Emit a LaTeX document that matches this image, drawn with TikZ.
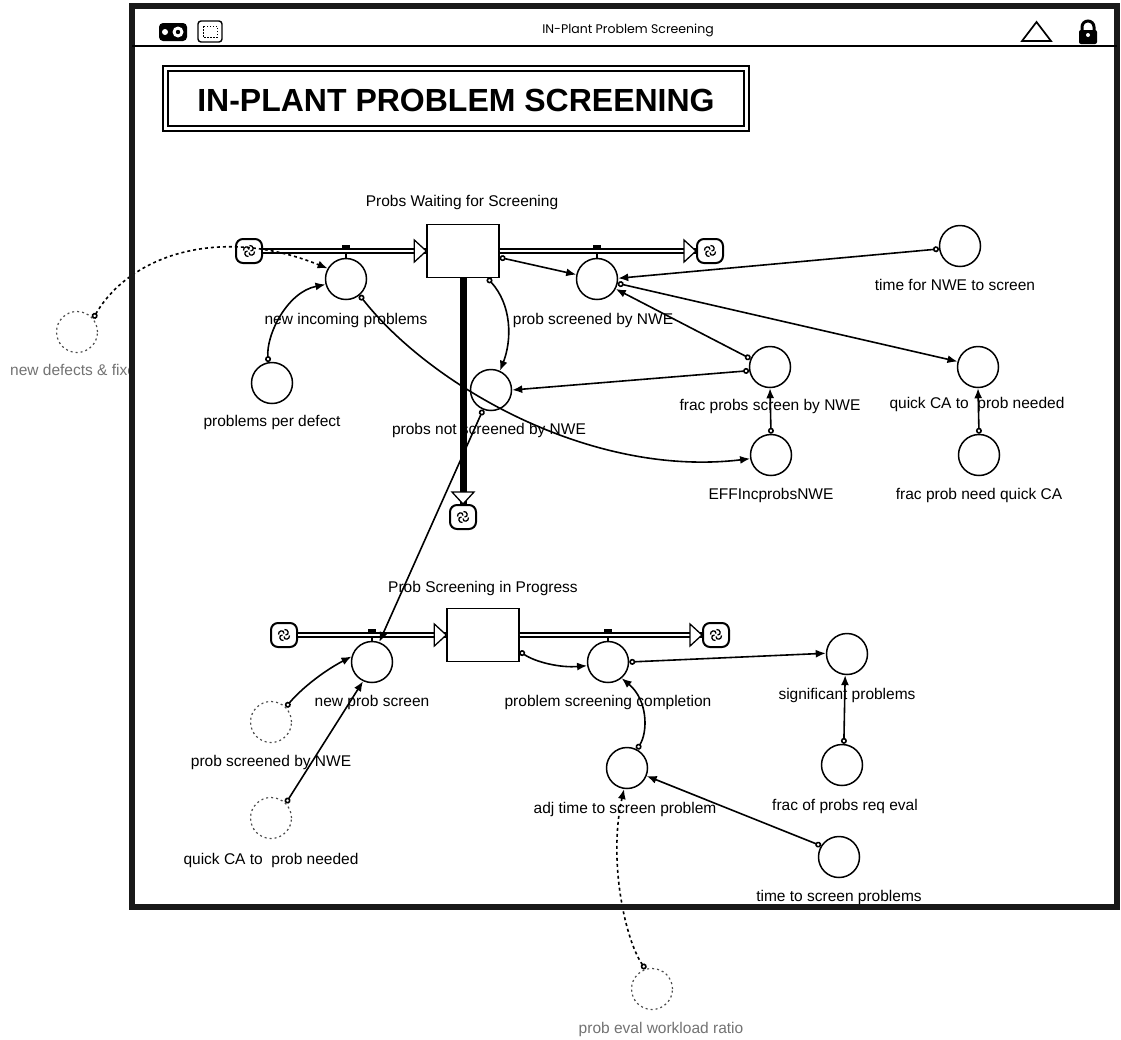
\documentclass[tikz,border=0pt]{standalone}
\usepackage{fontspec}
\setmainfont{Liberation Sans}
\newfontfamily\barfont{Poppins}
\usetikzlibrary{arrows.meta,calc}

\tikzset{
  aux/.style={circle, draw, fill=white, line width=1.5pt, minimum size=41pt, inner sep=0pt},
  ghost/.style={circle, draw=black!70, dash pattern=on 2pt off 3pt, line width=1.2pt, minimum size=41pt, inner sep=0pt},
  stockbox/.style={rectangle, draw, fill=white, line width=1.4pt, minimum width=72pt, minimum height=53pt, inner sep=0pt},
  cloudicon/.style={rectangle, rounded corners=7pt, draw, fill=white, line width=2pt,
    minimum width=26pt, minimum height=24pt, inner sep=0pt,
    path picture={
      \foreach \a in {0,90,180,270}{
        \draw[line width=1.3pt]
          ($(path picture bounding box.center)+(\a:1.5pt)$)
          .. controls ($(path picture bounding box.center)+(\a:6pt)$)
          and ($(path picture bounding box.center)+(\a+55:7.5pt)$)
          .. ($(path picture bounding box.center)+(\a+85:5.5pt)$);
      }}},
  lbl/.style={font=\fontsize{15.5}{18}\selectfont, anchor=mid, inner sep=0pt},
  faintlbl/.style={lbl, text=black!55},
  pipe/.style={line width=1.5pt, double=white, double distance=2.4pt},
  vpipe/.style={line width=7pt},
  pipehead/.style={draw, line width=1.3pt, fill=white, line join=miter},
  valvemark/.style={fill=black},
  conn/.style={line width=1.6pt, {Circle[fill=white,length=6pt,width=6pt]}-{Latex[length=10pt,width=8pt]}},
  ghostconn/.style={conn, dash pattern=on 3pt off 3pt},
  frame/.style={line width=5.5pt, draw=black!90}
}

\begin{document}
\begin{tikzpicture}[x=1pt,y=1pt]
\useasboundingbox (0,0) rectangle (1121,-1039);
\fill[white] (0,0) rectangle (1121,-1039);

% ---------- stocks and clouds ----------
\node[stockbox] (stock1) at (463,-251) {};
\node[stockbox] (stock2) at (483,-635) {};
\node[cloudicon] (c1) at (249,-251) {};
\node[cloudicon] (c2) at (710,-251) {};
\node[cloudicon] (c3) at (463,-517) {};
\node[cloudicon] (c4) at (284,-635) {};
\node[cloudicon] (c5) at (716,-635) {};

% ---------- pipes ----------
\draw[pipe] (c1.east) -- (stock1.west);
\draw[pipe] (stock1.east) -- (c2.west);
\draw[vpipe] (stock1.south) -- (c3.north);
\draw[pipe] (c4.east) -- (stock2.west);
\draw[pipe] (stock2.east) -- (c5.west);

\draw[pipehead] (stock1.west) -- ++(-12,11) -- ++(0,-22) -- cycle;
\draw[pipehead] (c2.west) -- ++(-12,11) -- ++(0,-22) -- cycle;
\draw[pipehead] (c3.north) -- ++(-11,12) -- ++(22,0) -- cycle;
\draw[pipehead] (stock2.west) -- ++(-12,11) -- ++(0,-22) -- cycle;
\draw[pipehead] (c5.west) -- ++(-12,11) -- ++(0,-22) -- cycle;

% ---------- converters and flow valves ----------
\node[aux] (nip) at (346,-279) {};
\node[aux] (ppd) at (272,-383) {};
\node[aux] (psn) at (597,-279) {};
\node[aux] (pns) at (491,-390) {};
\node[aux] (fps) at (770,-367) {};
\node[aux] (eff) at (771,-455) {};
\node[aux] (tnw) at (960,-246) {};
\node[aux] (qca) at (978,-367) {};
\node[aux] (fqc) at (979,-455) {};
\node[aux] (nps) at (372,-662) {};
\node[aux] (psc) at (608,-662) {};
\node[aux] (sig) at (847,-654) {};
\node[aux] (fre) at (842,-765) {};
\node[aux] (adj) at (627,-768) {};
\node[aux] (tsp) at (839,-857) {};
\node[ghost] (gps) at (271,-722) {};
\node[ghost] (gqc) at (271,-818) {};
\node[ghost] (gl) at (77,-332) {};
\node[ghost] (gb) at (652,-989) {};

% valve marks on the pipes
\fill[valvemark] (342,-245) rectangle (350,-249);
\draw[line width=1.3pt] (nip.north) -- ++(0,5);
\fill[valvemark] (593,-245) rectangle (601,-249);
\draw[line width=1.3pt] (psn.north) -- ++(0,5);
\fill[valvemark] (368,-629) rectangle (376,-633);
\draw[line width=1.3pt] (nps.north) -- ++(0,5);
\fill[valvemark] (604,-629) rectangle (612,-633);
\draw[line width=1.3pt] (psc.north) -- ++(0,5);

% ---------- connectors ----------
\draw[conn] (ppd.100) .. controls (266,-335) and (287,-292) .. (nip.195);
\draw[conn] (nip.-50) .. controls (430,-385) and (590,-478) .. (eff.190);
\draw[conn] (stock1.-10) -- (psn.168);
\draw[conn] (stock1.-48) .. controls (512,-305) and (512,-340) .. (pns.65);
\draw[conn] (fps.157) -- (psn.-28);
\draw[conn] (fps.190) -- (pns.0);
\draw[conn] (tnw.188) -- (psn.2);
\draw[conn] (psn.-12) -- (qca.165);
\draw[conn] (eff.north) -- (fps.south);
\draw[conn] (fqc.north) -- (qca.south);
\draw[conn] (pns.-112) -- (nps.70);
\draw[conn] (gps.45) .. controls (300,-690) and (322,-672) .. (nps.165);
\draw[conn] (gqc.45) -- (nps.-115);
\draw[conn] (stock2.-24) .. controls (535,-662) and (560,-668) .. (psc.190);
\draw[conn] (psc.0) -- (sig.178);
\draw[conn] (adj.62) .. controls (648,-732) and (648,-700) .. (psc.-50);
\draw[conn] (tsp.148) -- (adj.-22);
\draw[conn] (fre.85) -- (sig.-95);
\draw[ghostconn] (gl.40) .. controls (130,-255) and (220,-225) .. (nip.150);
\draw[ghostconn] (gb.108) .. controls (625,-940) and (608,-860) .. (adj.-98);

% ---------- labels ----------
\node[lbl] (stock1-l) at (462,-204) {Probs Waiting for Screening};
\node[lbl] (stock2-l) at (483,-590) {Prob Screening in Progress};
\node[lbl] (nip-l) at (346,-322) {new incoming problems};
\node[lbl] (ppd-l) at (272,-424) {problems per defect};
\node[lbl] (psn-l) at (593,-322) {prob screened by NWE};
\node[lbl] (pns-l) at (489,-432) {probs not screened by NWE};
\node[lbl] (fps-l) at (770,-408) {frac probs screen by NWE};
\node[lbl] (eff-l) at (771,-497) {EFFIncprobsNWE};
\node[lbl] (tnw-l) at (955,-288) {time for NWE to screen};
\node[lbl] (qca-l) at (977,-406) {quick CA to~ prob needed};
\node[lbl] (fqc-l) at (979,-497) {frac prob need quick CA};
\node[lbl] (nps-l) at (372,-704) {new prob screen};
\node[lbl] (psc-l) at (608,-704) {problem screening completion};
\node[lbl] (sig-l) at (847,-697) {significant problems};
\node[lbl] (fre-l) at (845,-808) {frac of probs req eval};
\node[lbl] (adj-l) at (625,-811) {adj time to screen problem};
\node[lbl] (tsp-l) at (839,-899) {time to screen problems};
\node[lbl] (gps-l) at (271,-764) {prob screened by NWE};
\node[lbl] (gqc-l) at (271,-862) {quick CA to~ prob needed};
\begin{scope}
  \clip (0,0) rectangle (130,-1039);
  \node[faintlbl] (gl-l) at (77,-373) {new defects \& fixes};
\end{scope}
\node[faintlbl] (gb-l) at (661,-1031) {prob eval workload ratio};

% ---------- title box ----------
\draw[line width=2.2pt] (163,-66) rectangle (749,-131);
\draw[line width=1.3pt] (168,-71) rectangle (744,-126);
\node[font=\fontsize{32}{36}\selectfont\bfseries, inner sep=0pt] (title) at (456,-100) {IN-PLANT PROBLEM SCREENING};

% ---------- window frame and title bar ----------
\draw[frame] (132,-6) rectangle (1117,-907);
\draw[line width=1.6pt] (132,-46) -- (1117,-46);
\node[font=\barfont\fontsize{12.5}{15}\selectfont, inner sep=0pt] (bartitle) at (628,-30) {IN-Plant Problem Screening};
% left title-bar icons
\fill[rounded corners=4pt] (159,-23) rectangle (187,-41);
\fill[white] (178,-32) circle (5.5);
\fill (178,-32) circle (2.2);
\fill[white] (165,-32) circle (3);
\draw[line width=1.4pt, rounded corners=3pt] (198,-21) rectangle (222,-42);
\draw[line width=1pt, dash pattern=on 1.5pt off 1.5pt] (203,-26) rectangle (217,-37);
% right title-bar icons
\draw[line width=1.7pt, line join=miter] (1022,-41) -- (1051,-41) -- (1036.5,-22) -- cycle;
\draw[line width=3pt] (1082,-31) -- (1082,-27) arc[start angle=180, end angle=0, radius=6] -- (1094,-31);
\fill[rounded corners=2pt] (1079,-30) rectangle (1097,-44);
\fill[white] (1088,-35) circle (2);
\end{tikzpicture}
\end{document}
